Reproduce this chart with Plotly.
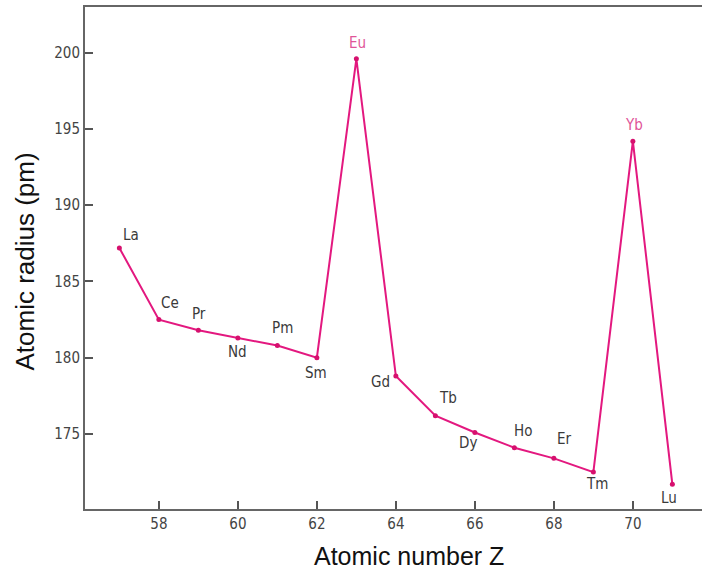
import plotly.graph_objects as go

elements = ["La", "Ce", "Pr", "Nd", "Pm", "Sm", "Eu", "Gd", "Tb", "Dy", "Ho", "Er", "Tm", "Yb", "Lu"]
atomic_number = [57, 58, 59, 60, 61, 62, 63, 64, 65, 66, 67, 68, 69, 70, 71]
radius_pm = [187.2, 182.5, 181.8, 181.3, 180.8, 180.0, 199.6, 178.8, 176.2, 175.1, 174.1, 173.4, 172.5, 194.2, 171.7]

x_ticks = [58, 60, 62, 64, 66, 68, 70]
y_ticks = [175, 180, 185, 190, 195, 200]

x_title = "Atomic number Z"
y_title = "Atomic radius (pm)"

# label offsets (px) and colours (style only)
offsets = {
    "La": (12, 13), "Ce": (11, 17), "Pr": (1, 16), "Nd": (0, -14), "Pm": (5, 18),
    "Sm": (-1, -15), "Eu": (1, 16), "Gd": (-15, -6), "Tb": (13, 18), "Dy": (-7, -11),
    "Ho": (9, 17), "Er": (11, 19), "Tm": (4, -12), "Yb": (1, 16), "Lu": (-3, -14),
}
highlight = {"Eu", "Yb"}

LINE = "#e3187f"
NARROW = "DejaVu Sans Condensed, Liberation Sans Narrow, Arial Narrow, sans-serif"
TITLE_FAMILY = "Liberation Sans, Arial, sans-serif"

fig = go.Figure()
fig.add_trace(go.Scatter(
    x=atomic_number, y=radius_pm, mode="lines+markers",
    line=dict(color=LINE, width=2),
    marker=dict(color="#d6106e", size=5),
    showlegend=False, hoverinfo="skip", cliponaxis=False,
))

for el, z, r in zip(elements, atomic_number, radius_pm):
    dx, dy = offsets[el]
    fig.add_annotation(
        x=z, y=r, text=el, showarrow=False, xshift=dx, yshift=dy,
        font=dict(family=NARROW, size=15, color="#e05598" if el in highlight else "#3a3a3a"),
    )

# axis titles
fig.add_annotation(x=0.525, y=-0.094, xref="paper", yref="paper", text=x_title,
                   showarrow=False, xanchor="center", yanchor="middle",
                   font=dict(family=TITLE_FAMILY, size=25, color="#111"))
fig.add_annotation(x=-0.098, y=0.492, xref="paper", yref="paper", text=y_title,
                   showarrow=False, xanchor="center", yanchor="middle", textangle=-90,
                   font=dict(family=TITLE_FAMILY, size=26, color="#111"))

fig.update_layout(
    width=702, height=573,
    margin=dict(l=85, r=0, t=7, b=64, autoexpand=False),
    paper_bgcolor="white", plot_bgcolor="white",
    xaxis=dict(
        range=[56.13, 71.75], tickvals=x_ticks, ticks="inside", ticklen=8,
        tickcolor="#555", tickwidth=1.5, automargin=False,
        showline=True, linecolor="#666", linewidth=2, mirror=True,
        showgrid=False, zeroline=False,
        tickfont=dict(family=NARROW, size=15, color="#444"),
    ),
    yaxis=dict(
        range=[170.08, 203.0], tickvals=y_ticks, ticks="inside", ticklen=8,
        tickcolor="#555", tickwidth=1.5, automargin=False,
        showline=True, linecolor="#666", linewidth=2, mirror=False,
        showgrid=False, zeroline=False,
        tickfont=dict(family=NARROW, size=15, color="#444"),
    ),
)

fig.write_html(
    "out.html",
    config={"displayModeBar": False},
    post_script="document.body.style.margin='0';document.body.style.overflow='hidden';",
)
